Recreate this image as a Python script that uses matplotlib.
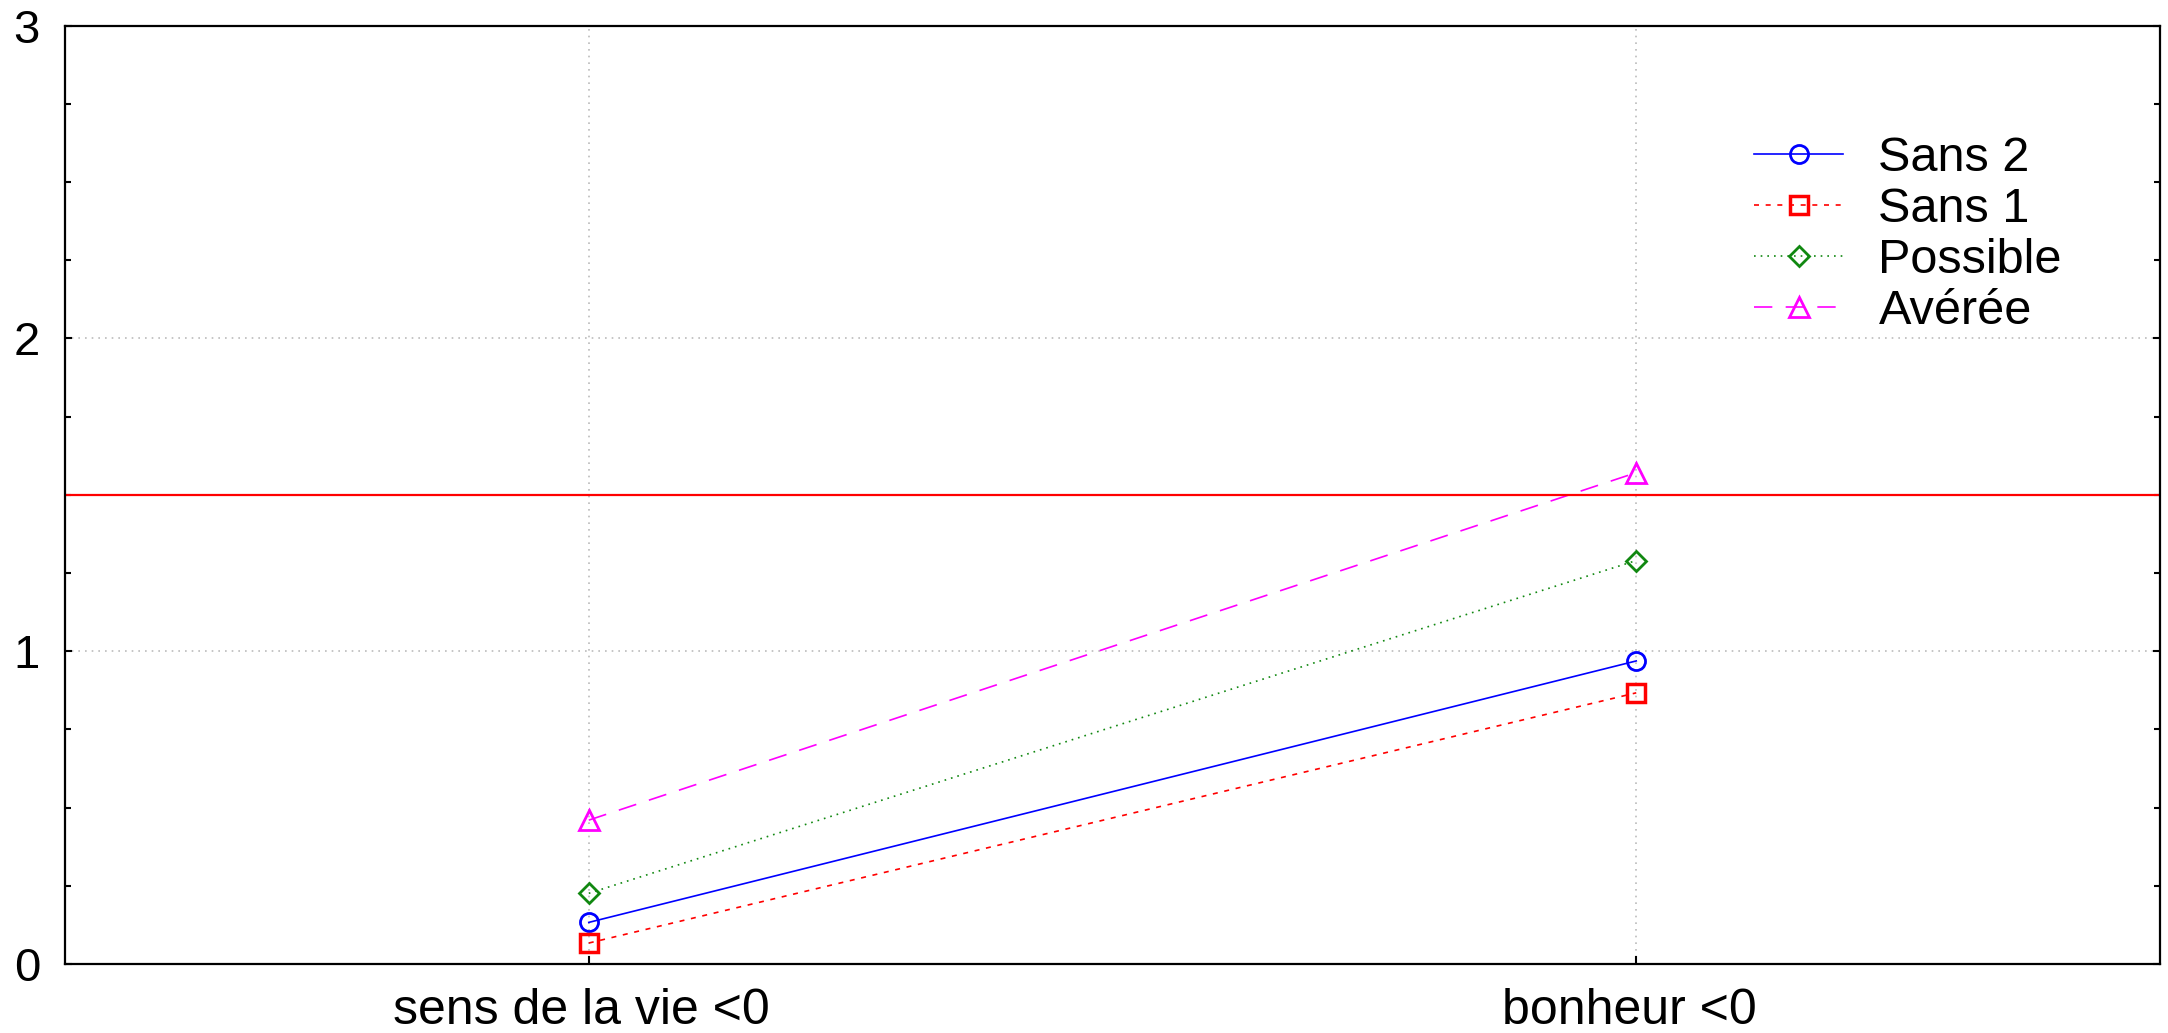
import numpy as np
import matplotlib
matplotlib.use("Agg")
import matplotlib.pyplot as plt
import matplotlib.transforms as mtransforms
from matplotlib.ticker import MultipleLocator

plt.rcParams['font.family'] = ['Liberation Sans', 'DejaVu Sans']

categories = ["sens de la vie <0", "bonheur <0"]
sans2 = [0.133, 0.969]
sans1 = [0.067, 0.867]
possible = [0.226, 1.290]
averee = [0.460, 1.571]
seuil = 1.5

x = np.arange(len(categories))

fig = plt.figure(figsize=(21.68, 10.33), dpi=100)
ax = fig.add_axes([0.030, 0.0668, 0.9663, 0.9083])

ax.plot(x, sans2, color='#0000ff', lw=1.2, ls='-', marker='o', ms=13,
        mfc='none', mec='#0000ff', mew=2, label='Sans 2')
ax.plot(x, sans1, color='#ff0000', lw=1.2, dashes=(3, 4), marker='s', ms=12.5,
        mfc='none', mec='#ff0000', mew=2.5, label='Sans 1')
ax.plot(x, possible, color='#118811', lw=1.2, dashes=(1, 3), marker='D', ms=10.5,
        mfc='none', mec='#118811', mew=2, label='Possible')
ax.plot(x, averee, color='#ff00ff', lw=1.2, dashes=(11, 8), marker='^', ms=15,
        mfc='none', mec='#ff00ff', mew=2, label='Avérée')
ax.axhline(seuil, color='#ff0000', lw=1.6)

ax.set_xlim(-0.5, 1.5)
ax.set_ylim(0, 3)
ax.set_xticks(x)
ax.set_xticklabels(categories)
ax.set_yticks([0, 1, 2, 3])
ax.yaxis.set_minor_locator(MultipleLocator(0.25))

ax.grid(True, which='major', color='#bbbbbb', ls=(0, (1, 3)), lw=1.2)
ax.tick_params(axis='both', which='both', direction='in', right=True, width=1.5)
ax.tick_params(axis='y', which='major', length=5, pad=18, labelsize=34)
ax.tick_params(axis='y', which='minor', length=4)
ax.tick_params(axis='x', which='major', length=6, pad=17, labelsize=36)
for s in ax.spines.values():
    s.set_linewidth(1.6)

# labels sit a little left of their ticks in the original
shift = mtransforms.ScaledTranslation(-7 / 100, 0, fig.dpi_scale_trans)
for lab in ax.get_xticklabels():
    lab.set_transform(lab.get_transform() + shift)

ax.legend(loc='center left', bbox_to_anchor=(0.806, 0.777), frameon=False,
          fontsize=35, handlelength=1.85, handletextpad=0.72, labelspacing=0.12,
          borderpad=0, borderaxespad=0)

fig.savefig('out.png', dpi=100)
